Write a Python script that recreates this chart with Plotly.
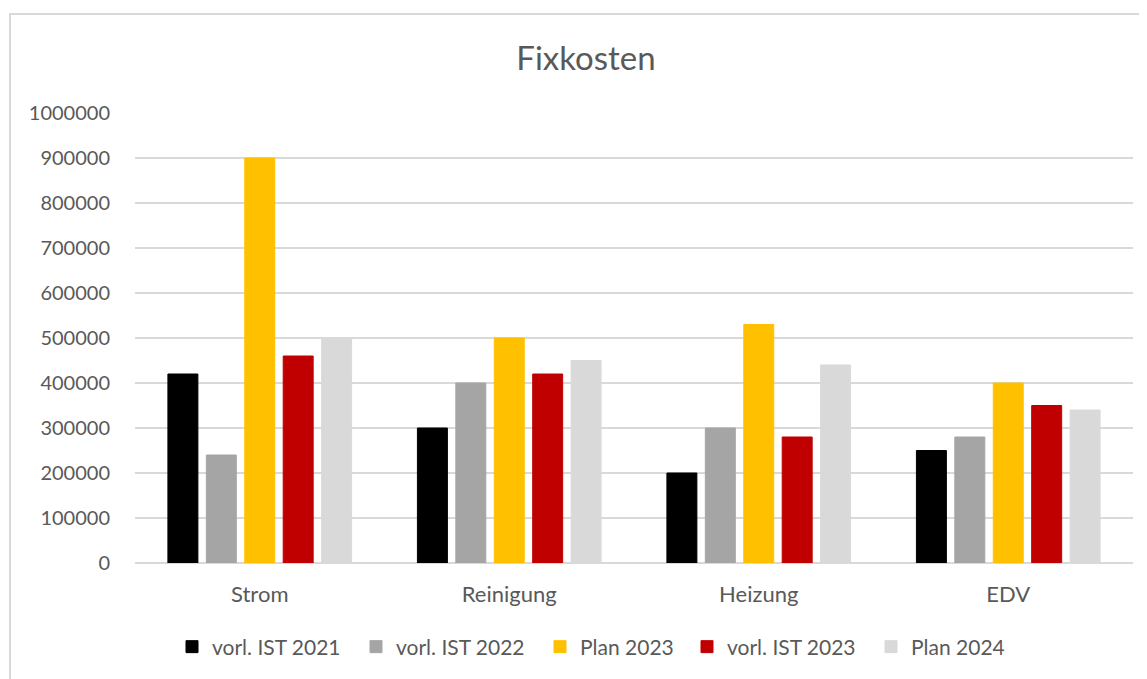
import plotly.graph_objects as go

# categories and series
categories = ["Strom", "Reinigung", "Heizung", "EDV"]
series_names = ["vorl. IST 2021", "vorl. IST 2022", "Plan 2023", "vorl. IST 2023", "Plan 2024"]
ist_2021 = [420000, 300000, 200000, 250000]
ist_2022 = [240000, 400000, 300000, 280000]
plan_2023 = [900000, 500000, 530000, 400000]
ist_2023 = [460000, 420000, 280000, 350000]
plan_2024 = [500000, 450000, 440000, 340000]
y_ticks = [0, 100000, 200000, 300000, 400000, 500000, 600000, 700000, 800000, 900000, 1000000]

colors = ["#000000", "#A5A5A5", "#FFC000", "#C00000", "#D9D9D9"]
values = [ist_2021, ist_2022, plan_2023, ist_2023, plan_2024]
# x pixel of each legend swatch in the screenshot
legend_px = [187, 371, 555, 702, 886]

font_col = "#595959"
W, H = 1147, 679
off = 8  # page body margin of the browser
ml, mr, mt, mb = 135 - off, 22, 113 - off, 124
pw, ph = W - ml - mr, H - mt - mb

fig = go.Figure()
legends = {}
for i, (name, vals, col) in enumerate(zip(series_names, values, colors)):
    key = "legend" if i == 0 else "legend%d" % (i + 1)
    fig.add_trace(go.Bar(x=categories, y=vals, name=name, marker_color=col,
                         marker_line=dict(width=1, color=col), legend=key, showlegend=True))
    legends[key] = dict(orientation="h", x=(legend_px[i] - 15 - off - ml) / pw,
                        xanchor="left", y=(555 - 639) / ph, yanchor="middle",
                        font=dict(size=21, color=font_col), itemwidth=30,
                        bgcolor="rgba(0,0,0,0)", visible=True)

fig.update_layout(
    width=W, height=H,
    margin=dict(l=ml, r=mr, t=mt, b=mb),
    paper_bgcolor="white", plot_bgcolor="white",
    showlegend=True,
    font=dict(family="Lato, Calibri, sans-serif", color=font_col, size=20),
    title=dict(text="Fixkosten", x=(586 - off) / W, xref="container", xanchor="center",
               y=1 - (58 - off) / H, yanchor="middle", font=dict(size=33, color=font_col)),
    barmode="group", bargap=0.23, bargroupgap=0.22,
    xaxis=dict(showgrid=False, showline=False, ticks="outside", ticklen=12,
               tickcolor="rgba(0,0,0,0)", tickfont=dict(size=22, color=font_col)),
    yaxis=dict(range=[0, 1000000], tickvals=y_ticks, ticktext=[str(v) for v in y_ticks],
               showgrid=True, gridcolor="#D9D9D9", gridwidth=1.5, zeroline=True,
               zerolinecolor="#D9D9D9", zerolinewidth=1.5, showline=False,
               ticklabelstandoff=24, tickfont=dict(size=20, color=font_col)),
    shapes=[dict(type="rect", xref="paper", yref="paper",
                 x0=(10 - off - ml) / pw, x1=(W + 20 - ml) / pw,
                 y0=-(H + 20 - mt - ph) / ph, y1=(mt - (14 - off)) / ph + 1,
                 line=dict(color="#D9D9D9", width=2), layer="below")],
    **legends,
)

fig.write_html("out.html")
